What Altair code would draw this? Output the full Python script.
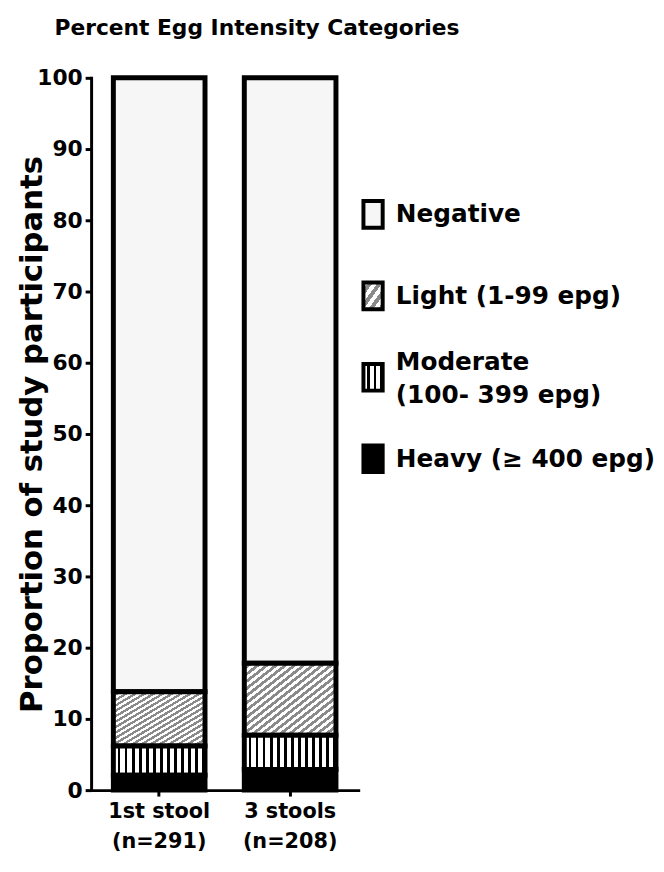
import altair as alt
import pandas as pd

# ---- data ----
samples = ["1st stool|(n=291)", "3 stools|(n=208)"]
categories = ["Heavy", "Moderate", "Light", "Negative"]  # stacking order, bottom to top
heavy = [2.1, 2.9]
moderate = [4.1, 4.8]
light = [7.6, 10.1]
negative = [86.2, 82.2]
legend_labels = ["Negative", "Light (1-99 epg)", "Moderate|(100- 399 epg)", "Heavy (\u2265 400 epg)"]
legend_keys = ["Negative", "Light", "Moderate", "Heavy"]

series = {"Heavy": heavy, "Moderate": moderate, "Light": light, "Negative": negative}
rows = []
for order, cat in enumerate(categories):
    for s, v in zip(samples, series[cat]):
        rows.append({"sample": s, "category": cat, "order": order, "value": v})
df = pd.DataFrame(rows)
leg_df = pd.DataFrame({"key": legend_keys, "label": legend_labels})

FONT = "DejaVu Sans"


def stripes(n, c1, c2, frac, x2, y2):
    stops = []
    for i in range(n):
        a, b, c = i / n, (i + frac) / n, (i + 1) / n
        stops += [
            {"offset": a, "color": c1},
            {"offset": b, "color": c1},
            {"offset": b, "color": c2},
            {"offset": c, "color": c2},
        ]
    return {"gradient": "linear", "x1": 0, "y1": 0, "x2": x2, "y2": y2, "stops": stops}


fills = {
    "Negative": "#f6f6f6",
    "Light": stripes(20, "#ffffff", "#8a8a8a", 0.5, 1, 1),
    "Moderate": stripes(13, "#ffffff", "#000000", 0.62, 1, 0),
    "Heavy": "#000000",
}
legend_fills = {
    "Negative": "#f6f6f6",
    "Light": stripes(4, "#ffffff", "#8a8a8a", 0.5, 1, 1),
    "Moderate": stripes(3, "#ffffff", "#000000", 0.6, 1, 0),
    "Heavy": "#000000",
}

base = (
    alt.Chart(df)
    .transform_stack(
        stack="value",
        groupby=["sample"],
        as_=["v0", "v1"],
        sort=[alt.SortField("order", order="ascending")],
    )
    .encode(
        x=alt.X(
            "sample:N",
            sort=samples,
            scale=alt.Scale(paddingInner=0.3, paddingOuter=0.17),
            axis=alt.Axis(
                title=None,
                labelAngle=0,
                labelExpr="split(datum.label, '|')",
                labelFont=FONT,
                labelFontWeight="bold",
                labelFontSize=21,
                labelLineHeight=30,
                labelColor="black",
                labelPadding=5,
                domainColor="black",
                domainWidth=3,
                domainCap="square",
                tickColor="black",
                tickWidth=3,
                tickSize=6,
            ),
        ),
        y=alt.Y(
            "v0:Q",
            scale=alt.Scale(domain=[0, 100], nice=False),
            axis=alt.Axis(
                title="Proportion of study participants",
                values=list(range(0, 101, 10)),
                labelFont=FONT,
                labelFontWeight="bold",
                labelFontSize=22,
                labelColor="black",
                labelPadding=3,
                domainColor="black",
                domainWidth=3,
                domainCap="square",
                tickColor="black",
                tickWidth=3,
                tickSize=6,
                titleFont=FONT,
                titleFontWeight="bold",
                titleFontSize=31,
                titleColor="black",
                titleX=-43,
                titleY=360,
            ),
        ),
        y2="v1:Q",
    )
)

layers = [
    base.transform_filter(alt.datum.category == cat).mark_bar(
        fill=fills[cat], stroke="black", strokeWidth=5, opacity=1
    )
    for cat in ["Negative", "Light", "Moderate", "Heavy"]
]
main = alt.layer(*layers).properties(width=270, height=720)

lbase = alt.Chart(leg_df).encode(
    y=alt.Y(
        "key:N",
        sort=legend_keys,
        scale=alt.Scale(type="point", padding=0, range=[138, 385]),
        axis=None,
    )
)
sym_layers = [
    lbase.transform_filter(alt.datum.key == k).mark_point(
        shape="M-0.72,-1L0.72,-1L0.72,1L-0.72,1Z",
        size=729,
        filled=True,
        fill=legend_fills[k],
        stroke="black",
        strokeWidth=4,
        opacity=1,
    ).encode(x=alt.value(15))
    for k in legend_keys
]
text_style = dict(
    align="left",
    baseline="middle",
    font=FONT,
    fontWeight="bold",
    fontSize=25,
    lineBreak="|",
    lineHeight=33,
    color="black",
)
texts_single = (
    lbase.transform_filter(alt.datum.key != "Moderate")
    .mark_text(**text_style)
    .encode(x=alt.value(38), text="label:N")
)
texts_double = (
    lbase.transform_filter(alt.datum.key == "Moderate")
    .mark_text(dy=-15, **text_style)
    .encode(x=alt.value(38), text="label:N")
)
legend = alt.layer(*sym_layers, texts_single, texts_double).properties(width=270, height=720)

chart = (
    alt.hconcat(main, legend, spacing=0, bounds="flush")
    .properties(
        title=alt.TitleParams(
            "Percent Egg Intensity Categories",
            anchor="start",
            font=FONT,
            fontWeight="bold",
            fontSize=22,
            color="black",
            offset=27,
            dx=38,
        ),
        padding={"left": 9, "top": 5, "right": 0, "bottom": 0},
    )
    .configure_view(stroke=None)
    .configure_axis(grid=False)
)

chart.save("out.html", embed_options={"renderer": "svg", "actions": False})
